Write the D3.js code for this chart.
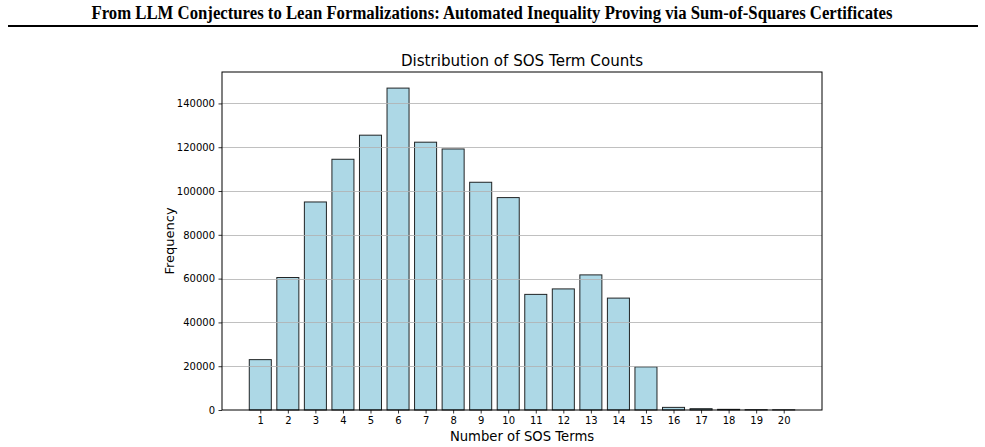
<!DOCTYPE html>
<html><head><meta charset="utf-8">
<script src="https://cdn.jsdelivr.net/npm/d3@7"></script>
<style>body{margin:0;background:#fff;} svg{display:block;}</style>
</head><body>
<svg id="chart" width="985" height="447"></svg>
<script>
const categories = [1,2,3,4,5,6,7,8,9,10,11,12,13,14,15,16,17,18,19,20];
const frequencies = [23000,60500,95000,114500,125500,147000,122300,119200,104000,97000,52800,55300,61700,51100,19700,1200,600,300,150,100];
const yTicks = [0,20000,40000,60000,80000,100000,120000,140000];
const paperTitle = "From LLM Conjectures to Lean Formalizations: Automated Inequality Proving via Sum-of-Squares Certificates";
const chartTitle = "Distribution of SOS Term Counts";
const xLabel = "Number of SOS Terms";
const yLabel = "Frequency";

const svg = d3.select("#chart");
const L = 222, R = 822, T = 72, B = 410;

// paper header
svg.append("text").attr("x", 492).attr("y", 19).attr("text-anchor","middle")
  .attr("font-family","Liberation Serif, Times New Roman, serif").attr("font-weight","bold")
  .attr("font-size", 18).attr("fill","#000")
  .attr("textLength", 801).attr("lengthAdjust", "spacingAndGlyphs").text(paperTitle);
svg.append("line").attr("x1",8).attr("x2",978).attr("y1",26).attr("y2",26)
  .attr("stroke","#000").attr("stroke-width",2);

const x = d3.scaleLinear().domain([0.6-0.99, 20.4+0.99]).range([L, R]);
const y = d3.scaleLinear().domain([0, 154350]).range([B, T]);
const bw = x(0.8) - x(0);

const font = "DejaVu Sans, sans-serif";

// bars
svg.append("g").selectAll("rect").data(categories).join("rect")
  .attr("x", (d)=> x(d) - bw/2)
  .attr("y", (d,i)=> y(frequencies[i]))
  .attr("width", bw)
  .attr("height", (d,i)=> y(0) - y(frequencies[i]))
  .attr("fill", "#add8e6")
  .attr("stroke", "#000").attr("stroke-opacity", 0.85).attr("stroke-width", 1);

// grid (on top)
svg.append("g").selectAll("line").data(yTicks.filter(t=>t>0)).join("line")
  .attr("x1", L).attr("x2", R)
  .attr("y1", d=>Math.round(y(d))+0.5).attr("y2", d=>Math.round(y(d))+0.5)
  .attr("stroke", "#b0b0b0").attr("stroke-opacity", 0.8).attr("stroke-width", 1);

// axes
const xAxis = d3.axisBottom(x).tickValues(categories).tickFormat(d3.format("d")).tickSizeOuter(0).tickSize(3.5).tickPadding(3.5);
const gx = svg.append("g").attr("transform", `translate(0,${B})`).call(xAxis);
const yAxis = d3.axisLeft(y).tickValues(yTicks).tickFormat(d3.format("d")).tickSizeOuter(0).tickSize(3.5).tickPadding(3.5);
const gy = svg.append("g").attr("transform", `translate(${L},0)`).call(yAxis);
[gx, gy].forEach(g => {
  g.select(".domain").remove();
  g.selectAll("text").attr("font-family", font).attr("font-size", 10).attr("fill", "#000");
  g.selectAll("line").attr("stroke", "#000").attr("stroke-width", 0.8);
});

// frame
svg.append("rect").attr("x", L).attr("y", T).attr("width", R-L).attr("height", B-T)
  .attr("fill","none").attr("stroke","#000").attr("stroke-width",1);

// titles & labels
svg.append("text").attr("x", (L+R)/2).attr("y", 66).attr("text-anchor","middle")
  .attr("font-family", font).attr("font-size", 15.1).attr("fill","#000").text(chartTitle);
svg.append("text").attr("x", (L+R)/2).attr("y", 441).attr("text-anchor","middle")
  .attr("font-family", font).attr("font-size", 13.2).attr("fill","#000").text(xLabel);
svg.append("text").attr("transform", `translate(174,${(T+B)/2}) rotate(-90)`).attr("text-anchor","middle")
  .attr("font-family", font).attr("font-size", 13).attr("fill","#000").text(yLabel);
</script>
</body></html>
